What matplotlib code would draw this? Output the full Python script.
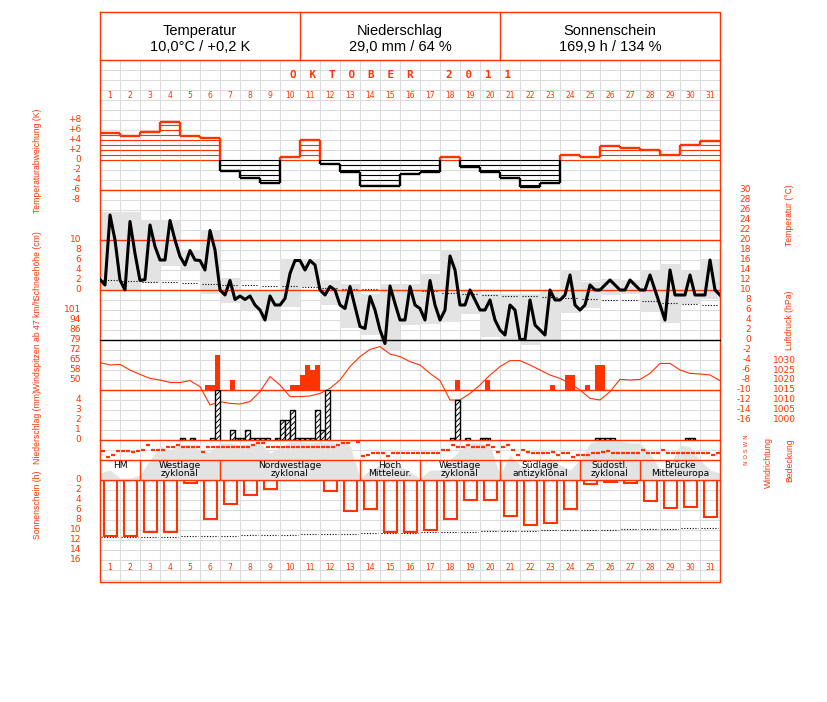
import numpy as np
import matplotlib
matplotlib.use("Agg")
import matplotlib.pyplot as plt
from matplotlib.transforms import blended_transform_factory as blend

# ---------------- data ----------------
days = list(range(1, 32))
header_titles = ["Temperatur", "Niederschlag", "Sonnenschein"]
header_values = ["10,0°C / +0,2 K", "29,0 mm / 64 %", "169,9 h / 134 %"]
month_title = "O  K  T  O  B  E  R     2  0  1  1"

# daily temperature deviation (K)
temp_dev = [5.3, 4.8, 5.5, 7.5, 4.7, 4.5, -2.1, -3.5, -4.5, 0.7, 4.0, -0.7, -2.4, -5.2, -5.2,
            -2.8, -2.4, 0.6, -1.4, -2.4, -3.6, -5.4, -4.6, 1.0, 0.6, 2.8, 2.4, 2.0, 1.0, 3.0, 3.8]

# 6-hourly temperature (°C)
temp_6h = [12.1, 11.0, 25.0, 20.0, 12.0, 10.0, 23.7, 17.3, 11.9, 12.1,
           23.0, 18.7, 16.0, 16.0, 23.9, 20.0, 16.7, 15.0, 17.9, 16.0,
           15.9, 14.0, 21.9, 18.0, 10.0, 9.0, 11.9, 8.1, 8.8, 8.1,
           8.8, 7.0, 6.0, 4.0, 8.8, 7.0, 7.0, 8.3, 13.3, 15.9,
           15.9, 14.0, 15.9, 15.0, 10.0, 9.0, 10.7, 10.0, 7.0, 6.3,
           10.7, 6.7, 2.7, 2.3, 8.7, 6.0, 2.0, -0.7, 10.8, 7.3,
           4.0, 4.0, 10.7, 7.0, 6.3, 4.0, 11.9, 7.0, 4.0, 6.0,
           16.8, 14.0, 7.0, 7.0, 10.0, 8.0, 6.0, 6.0, 8.0, 4.0,
           2.0, 1.0, 7.0, 6.0, 0.1, 0.1, 8.0, 3.0, 2.0, 1.0,
           10.0, 8.0, 8.0, 9.0, 13.0, 7.0, 6.0, 7.0, 11.0, 10.0,
           10.0, 11.0, 12.0, 11.0, 10.0, 10.0, 12.0, 11.0, 10.0, 10.0,
           13.0, 10.0, 7.0, 4.0, 14.0, 9.0, 9.0, 9.0, 13.0, 9.0,
           9.0, 9.0, 16.0, 10.0, 9.0]

# daily temperature range boxes (°C)
temp_box_hi = [25.7, 25.7, 24.1, 24.1, 18.0, 22.0, 12.5, 10.0, 10.0, 16.3, 16.3, 12.0, 11.3, 9.3, 11.2,
               11.3, 13.3, 18.0, 10.0, 9.3, 9.3, 9.3, 10.0, 14.0, 11.7, 12.3, 12.0, 14.1, 15.3, 14.0, 16.3]
temp_box_lo = [10.0, 10.0, 11.5, 14.8, 14.0, 9.3, 7.5, 6.0, 4.0, 6.7, 10.7, 7.0, 2.5, 1.0, -2.0,
               3.0, 3.3, 3.7, 5.3, 0.7, 0.0, -1.0, -0.3, 5.5, 6.5, 9.0, 9.3, 5.7, 3.5, 7.3, 8.3]
# long-term daily mean (°C)
temp_clim = [12.0, 11.9, 11.7, 11.6, 11.4, 11.3, 11.1, 11.0, 10.9, 10.8, 10.7, 10.5, 10.3, 10.2, 10.1,
             10.0, 9.8, 9.5, 9.3, 9.1, 8.9, 8.8, 8.7, 8.5, 8.3, 8.1, 8.0, 7.8, 7.5, 7.3, 7.1]

# 12-hourly pressure (hPa)
pressure = [1028.7, 1027.5, 1027.8, 1025.0, 1022.8, 1020.8, 1020.0, 1018.8, 1018.7, 1019.7,
            1016.7, 1007.5, 1009.2, 1008.3, 1008.0, 1009.2, 1014.2, 1021.7, 1017.5, 1011.7,
            1011.7, 1012.0, 1013.3, 1015.8, 1020.0, 1026.7, 1031.7, 1035.3, 1036.7, 1033.0,
            1031.7, 1029.2, 1027.5, 1023.3, 1019.7, 1010.0, 1010.0, 1013.3, 1017.5, 1022.5,
            1026.7, 1029.7, 1029.7, 1027.5, 1025.0, 1022.5, 1020.8, 1018.3, 1015.0, 1010.8,
            1010.0, 1014.2, 1020.3, 1020.0, 1020.3, 1023.3, 1028.3, 1028.3, 1025.0, 1023.3,
            1023.0, 1022.5, 1019.7]

# wind gusts: start of 6-h interval (day) and km/h
gust_start = [5.25, 5.5, 5.75, 6.5, 9.5, 9.75, 10.0, 10.25, 10.5, 10.75,
              17.75, 19.25, 22.5, 23.25, 23.5, 24.25, 24.75, 25.0]
gust_kmh = [46.4, 46.4, 68.2, 50.0, 46.4, 46.4, 53.6, 60.9, 57.3, 60.9,
            50.0, 50.0, 46.4, 53.6, 53.6, 46.4, 60.9, 60.9]

# precipitation: start of 6-h interval (day) and mm
precip_start = [4.0, 4.5, 5.5, 5.75, 6.5, 6.75, 7.0, 7.25, 7.5, 7.75, 8.0, 8.25, 8.75, 9.0, 9.25,
                9.5, 9.75, 10.0, 10.25, 10.5, 10.75, 11.0, 11.25,
                17.5, 17.75, 18.25, 19.0, 19.25, 24.75, 25.0, 25.25, 25.5, 29.25, 29.5]
precip_mm = [0.2, 0.2, 0.2, 5.0, 1.0, 0.2, 0.2, 1.0, 0.2, 0.2, 0.2, 0.2, 0.2, 2.0, 2.0,
             3.0, 0.2, 0.2, 0.2, 0.2, 3.0, 1.0, 5.0,
             0.2, 4.0, 0.2, 0.2, 0.2, 0.2, 0.2, 0.2, 0.2, 0.2, 0.2]

# 12-hourly cloud cover (octas)
cloud = [1.4, 2.0, 0.4, 0.4, 1.0, 4.0, 6.8, 6.0, 7.0, 7.2, 6.0, 5.6, 7.4, 7.4, 7.0, 7.4,
         7.4, 5.4, 6.6, 7.6, 7.6, 7.4, 7.6, 7.4, 7.4, 7.0, 0.4, 2.0, 3.0, 4.0, 2.8, 1.6,
         0.4, 2.0, 2.0, 4.0, 6.0, 7.4, 7.4, 7.0, 1.0, 5.0, 3.0, 2.0, 3.0, 4.4, 3.0, 2.0,
         4.0, 7.4, 7.8, 7.8, 7.8, 7.4, 7.4, 5.4, 2.0, 3.0, 7.0, 6.6, 4.0, 2.0, 1.4]

# 6-hourly wind direction (deg)
wind_dir = [192, 300, 270, 192, 192, 192, 210, 192, 180, 90,
            180, 180, 180, 120, 120, 90, 120, 120, 120, 132,
            210, 120, 120, 120, 120, 120, 120, 120, 120, 120,
            90, 48, 48, 120, 120, 120, 120, 120, 120, 120,
            120, 120, 120, 120, 120, 120, 120, 90, 48, 48,
            0, 30, 288, 270, 240, 240, 240, 288, 240, 240,
            240, 240, 240, 228, 228, 228, 228, 228, 180, 180,
            90, 120, 120, 90, 120, 120, 120, 90, 120, 210,
            120, 90, 180, 270, 180, 210, 228, 228, 228, 228,
            210, 270, 228, 228, 300, 270, 270, 270, 228, 228,
            210, 192, 228, 228, 228, 228, 228, 228, 180, 228,
            228, 228, 180, 228, 228, 228, 228, 228, 228, 228,
            228, 228, 270, 228]

weather_labels = ["HM", "Westlage\nzyklonal", "Nordwestlage\nzyklonal", "Hoch\nMitteleur.",
                  "Westlage\nzyklonal", "Südlage\nantizyklonal", "Südostl.\nzyklonal", "Brücke\nMitteleuropa"]
weather_first = [1, 3, 7, 14, 17, 21, 25, 28]
weather_last = [2, 6, 13, 16, 20, 24, 27, 31]

sunshine = [11.2, 11.2, 10.4, 10.4, 0.6, 7.8, 4.8, 3.0, 1.8, 0.0, 0.0, 2.2, 6.2, 5.8, 10.4, 10.4,
            10.0, 7.8, 4.0, 4.0, 7.2, 9.0, 8.6, 5.8, 0.8, 0.4, 0.6, 4.2, 5.6, 5.4, 7.4]
sun_possible = [11.4, 11.4, 11.3, 11.3, 11.2, 11.2, 11.1, 11.0, 11.0, 10.9, 10.8, 10.8, 10.7, 10.6, 10.6,
                10.5, 10.4, 10.4, 10.3, 10.2, 10.2, 10.1, 10.0, 10.0, 9.9, 9.9, 9.8, 9.7, 9.7, 9.6, 9.6]

dev_ticks = ["+8", "+6", "+4", "+2", "0", "-2", "-4", "-6", "-8"]
snow_ticks = ["10", "8", "6", "4", "2", "0"]
gust_ticks = ["101", "94", "86", "79", "72", "65", "58", "50"]
precip_ticks = ["4", "3", "2", "1", "0"]
sun_ticks = ["0", "2", "4", "6", "8", "10", "12", "14", "16"]
temp_ticks = ["30", "28", "26", "24", "22", "20", "18", "16", "14", "12", "10", "8", "6", "4", "2",
              "0", "-2", "-4", "-6", "-8", "-10", "-12", "-14", "-16"]
press_ticks = ["1030", "1025", "1020", "1015", "1010", "1005", "1000"]

# ---------------- styling ----------------
W, H = 827, 702
RED = "#ff3300"
GRID = "#dcdcdc"
FILL = "#e3e3e3"
TICKFS = 6.5
LABEL_FONT = "Liberation Sans"

fig = plt.figure(figsize=(W / 100, H / 100), dpi=100)
fig.patch.set_facecolor("white")


def pix_axes(z):
    ax = fig.add_axes([0, 0, 1, 1], zorder=z)
    ax.set_xlim(0, W)
    ax.set_ylim(H, 0)
    ax.axis("off")
    ax.patch.set_visible(False)
    return ax


def panel(y_top, y_bot, v_top, v_bot, z):
    ax = fig.add_axes([100 / W, 1 - y_bot / H, 620 / W, (y_bot - y_top) / H], zorder=z)
    ax.set_xlim(0, 31)
    ax.set_ylim(v_bot, v_top)
    ax.axis("off")
    ax.patch.set_visible(False)
    return ax


base = pix_axes(0)
over = pix_axes(2)

# grid
for x in np.arange(120, 720, 20):
    base.plot([x, x], [60, 460], color=GRID, lw=0.8)
    base.plot([x, x], [480, 582], color=GRID, lw=0.8)
for y in np.arange(70, 582, 10):
    if 460 < y < 480:
        continue
    base.plot([100, 720], [y, y], color=GRID, lw=0.8)

# frame and separators
over.plot([100, 720, 720, 100, 100], [12, 12, 582, 582, 12], color=RED, lw=1.0)
for y in [60, 190, 240, 290, 390, 440, 460, 480]:
    over.plot([100, 720], [y, y], color=RED, lw=1.0)
over.plot([100, 720], [340, 340], color="black", lw=1.0)
for x in [300, 500]:
    over.plot([x, x], [12, 60], color=RED, lw=1.0)

# header
for cx, t, v in zip([200, 400, 610], header_titles, header_values):
    base.text(cx, 31, t, ha="center", va="center", fontsize=10.5, family="Liberation Sans")
    base.text(cx, 47, v, ha="center", va="center", fontsize=10.5, family="Liberation Sans")
base.text(400, 75, month_title, ha="center", va="center", fontsize=7.8, color=RED,
          family="DejaVu Sans Mono", fontweight="bold")

# ---------- panels ----------
ax_dev = panel(110, 210, 10, -10, 3)
ax_temp = panel(190, 420, 30, -16, 1.5)
ax_tl = panel(190, 420, 30, -16, 4)
ax_snow = panel(240, 290, 10, 0, 3)
ax_p = panel(340, 440, 1040, 990, 3)
ax_g = panel(310, 390, 101, 42.7, 3.4)
ax_pr = panel(390, 440, 5, 0, 3.2)
ax_c = panel(440, 480, 8, 0, 1)
ax_w = panel(440, 460, 0, 360, 3)
ax_wt = panel(460, 480, 1, 0, 2.5)
ax_s = panel(480, 560, 0, 16, 3)

# day numbers
trd = blend(ax_s.transData, base.transData)
for d in days:
    base.text(d - 0.5, 96, str(d), transform=trd, ha="center", va="center", fontsize=5.5, color=RED)
    base.text(d - 0.5, 567, str(d), transform=trd, ha="center", va="center", fontsize=5.5, color=RED)

# temperature deviation
for i, v in enumerate(temp_dev):
    col = RED if v >= 0 else "black"
    sgn = 1 if v >= 0 else -1
    levels = sgn * np.arange(0, abs(v), 1.0)
    ax_dev.hlines(levels, i, i + 1, colors=col, lw=0.8)
    ax_dev.hlines(v, i, i + 1, colors=col, lw=1.7)
for i in range(1, len(temp_dev)):
    a, b = temp_dev[i - 1], temp_dev[i]
    lo, hi = min(a, b), max(a, b)
    if hi > 0:
        ax_dev.vlines(i, max(lo, 0), hi, colors=RED, lw=1.7)
    if lo < 0:
        ax_dev.vlines(i, lo, min(hi, 0), colors="black", lw=1.7)

# temperature
centers = np.array(days) - 0.5
ax_temp.bar(centers, np.array(temp_box_hi) - np.array(temp_box_lo), bottom=temp_box_lo,
            width=1.0, color=FILL, lw=0)
ax_temp.hlines(temp_clim, centers - 0.4, centers + 0.35, colors="black",
               linestyles=(0, (1, 1.5)), lw=0.8)
t6 = np.linspace(0, 31, len(temp_6h))
ax_tl.plot(t6, temp_6h, color="black", lw=2.2)

# pressure
t12 = np.linspace(0, 31, len(pressure))
ax_p.plot(t12, pressure, color=RED, lw=0.8)

# gusts
ax_g.bar(gust_start, np.array(gust_kmh) - 42.7, bottom=42.7, width=0.25, align="edge",
         color=RED, lw=0)

# precipitation
plt.rcParams["hatch.linewidth"] = 0.7
ax_pr.bar(precip_start, precip_mm, width=0.25, align="edge", facecolor="white",
          edgecolor="black", hatch="//////", lw=1.0)

# cloud cover
tc = np.linspace(0, 31, len(cloud))
ax_c.fill_between(tc, 0, cloud, color=FILL, lw=0)

# wind direction
tq = (np.arange(len(wind_dir)) + 0.5) / 4.0
ax_w.plot(tq, wind_dir, ls="none", marker="_", ms=3.2, mew=1.6, color=RED)

# weather types
for f, l, lab in zip(weather_first, weather_last, weather_labels):
    if f > 1:
        ax_wt.vlines(f - 1, 0, 1, colors=RED, lw=1.0)
    ax_wt.text((f - 1 + l) / 2, 0.95, lab, ha="center", va="top", fontsize=6.6,
               linespacing=0.82, color="black")

# sunshine
ax_s.bar(centers, sunshine, width=0.65, bottom=0, facecolor="none", edgecolor=RED, lw=1.5)
ax_s.hlines(sun_possible, centers - 0.45, centers + 0.4, colors="black",
            linestyles=(0, (1, 1.5)), lw=0.8)

# ---------- tick labels ----------
def yticklabels(ax, labels, v_first, v_last, xpix, ha="right"):
    tr = blend(base.transData, ax.transData)
    for v, lab in zip(np.linspace(v_first, v_last, len(labels)), labels):
        ax.text(xpix, v, lab, transform=tr, ha=ha, va="center", fontsize=TICKFS,
                color=RED, clip_on=False)

yticklabels(ax_dev, dev_ticks, 8, -8, 81)
yticklabels(ax_snow, snow_ticks, 10, 0, 81)
yticklabels(ax_g, gust_ticks, 101, 50, 81)
yticklabels(ax_pr, precip_ticks, 4, 0, 81)
yticklabels(ax_s, sun_ticks, 0, 16, 81)
yticklabels(ax_temp, temp_ticks, 30, -16, 751)
yticklabels(ax_p, press_ticks, 1030, 1000, 796)

# axis titles
for txt, y in [("Temperaturabweichung (K)", 161), ("Schneehöhe (cm)", 266),
               ("Windspitzen ab 47 km/h", 345), ("Niederschlag (mm)", 427),
               ("Sonnenschein (h)", 505)]:
    base.text(37, y, txt, rotation=90, ha="center", va="center", fontsize=6.2,
              color=RED, family=LABEL_FONT)
for txt, x, y in [("Temperatur (°C)", 790, 215), ("Luftdruck (hPa)", 790, 320),
                  ("Windrichtung", 768, 462), ("Bedeckung", 790, 460)]:
    base.text(x, y, txt, rotation=90, ha="center", va="center", fontsize=6.2,
              color=RED, family=LABEL_FONT)
base.text(747, 450, "N O S W N", rotation=90, ha="center", va="center", fontsize=4.2,
          color=RED)

fig.savefig("out.png", dpi=100, facecolor="white")
